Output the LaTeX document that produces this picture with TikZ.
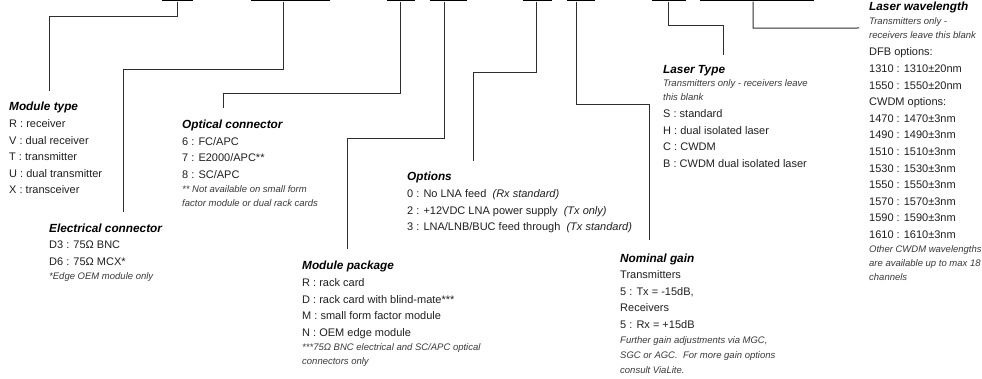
\documentclass[tikz,border=0pt]{standalone}
\usepackage{fontspec}
\setmainfont{Liberation Sans}
\usetikzlibrary{positioning}
\newcommand{\ttl}[1]{\rule{0pt}{9pt}{\fontsize{11.8}{14}\selectfont\bfseries\itshape\color{black}#1}}
\newcommand{\nte}[1]{{\fontsize{9.5}{12}\selectfont\itshape\color{black!78}#1}}

\begin{document}
\begin{tikzpicture}[
  x=1pt, y=-1pt,
  font=\fontsize{11}{16.6}\selectfont,
  bar/.style={fill=black, inner sep=0pt, minimum height=3pt},
  blk/.style={anchor=north west, inner sep=0pt, align=left, text=black!88},
  conn/.style={draw=black!82, line width=1pt}
]
  \useasboundingbox (0,0) rectangle (982,379);

  % code boxes along the top edge
  \node[bar, minimum width=31pt] (bar1) at (177.5,0) {};
  \node[bar, minimum width=79.5pt] (bar2) at (290.5,0) {};
  \node[bar, minimum width=28.5pt] (bar3) at (401,0) {};
  \node[bar, minimum width=36.5pt] (bar4) at (448.5,0) {};
  \node[bar, minimum width=29pt] (bar5) at (537.5,0) {};
  \node[bar, minimum width=28pt] (bar6) at (581,0) {};
  \node[bar, minimum width=34pt] (bar7) at (669,0) {};
  \node[bar, minimum width=114pt] (bar8) at (757,0) {};

  % field descriptions
  \node[blk] (mtype) at (9,101.7) {\ttl{Module type}\\
    R : receiver\\ V : dual receiver\\ T : transmitter\\
    U : dual transmitter\\ X : transceiver};

  \node[blk] (elec) at (49,223) {\ttl{Electrical connector}\\
    D3 : 75Ω BNC\\ D6 : 75Ω MCX*\\[-2.8pt]
    \nte{*Edge OEM module only}};

  \node[blk] (optic) at (182,119.5) {\ttl{Optical connector}\\
    6 : FC/APC\\ 7 : E2000/APC**\\ 8 : SC/APC\\[-2.4pt]
    \nte{** Not available on small form}\\[-2.6pt]
    \nte{factor module or dual rack cards}};

  \node[blk] (pkg) at (302,260.7) {\ttl{Module package}\\
    R : rack card\\ D : rack card with blind-mate***\\
    M : small form factor\ module\\ N : OEM edge module\\[-2pt]
    \nte{***75Ω BNC electrical and SC/APC\ optical}\\[-2.6pt]
    \nte{connectors only}};

  \node[blk] (opts) at (407,171.7) {\ttl{Options}\\
    0 : No LNA feed\ \ \textit{(Rx standard)}\\
    2 : +12VDC LNA power supply\ \ \textit{(Tx only)}\\
    3 : LNA/LNB/BUC feed through\ \ \textit{(Tx standard)}};

  \node[blk] (gain) at (620,253.3) {\ttl{Nominal gain}\\[-0.6pt]
    Transmitters\\ 5 : Tx = -15dB,\\ Receivers\\ 5 : Rx = +15dB\\[-1.6pt]
    \nte{Further gain adjustments via MGC,}\\[-1.6pt]
    \nte{SGC or AGC.\ \ For more gain options}\\[-1.1pt]
    \nte{consult ViaLite.}};

  \node[blk] (ltype) at (663,64.3) {\ttl{Laser Type}\\[-3.6pt]
    \nte{Transmitters only - receivers leave}\\[-2.6pt]
    \nte{this blank}\\[0.4pt]
    S : standard\\ H : dual isolated\ laser\\ C : CWDM\\
    B : CWDM dual isolated\ laser};

  \node[blk] (lwave) at (869,1) {\ttl{Laser wavelength}\\[-1.9pt]
    \nte{Transmitters only -}\\[-3.3pt]
    \nte{receivers leave this blank}\\[1.1pt]
    DFB options:\\ 1310 : 1310±20nm\\ 1550 : 1550±20nm\\
    CWDM options:\\ 1470 : 1470±3nm\\ 1490 : 1490±3nm\\
    1510 : 1510±3nm\\ 1530 : 1530±3nm\\ 1550 : 1550±3nm\\
    1570 : 1570±3nm\\ 1590 : 1590±3nm\\ 1610 : 1610±3nm\\[-2.6pt]
    \nte{Other CWDM wavelengths}\\[-2.6pt]
    \nte{are available up to max 18}\\[-2.6pt]
    \nte{channels}};

  % leader lines
  \draw[conn] (bar1.south) -- ++(0,14.5) -| ([xshift=40pt,yshift=10.7pt]mtype.north west);
  \draw[conn] ([xshift=-7.5pt]bar2.south) -- ++(0,67.5) -| ([xshift=74pt,yshift=11pt]elec.north west);
  \draw[conn] ([xshift=-1pt]bar3.south) -- ++(0,92) -| ([xshift=41pt,yshift=11.5pt]optic.north west);
  \draw[conn] ([xshift=-4.5pt]bar4.south) -- ++(0,136.5) -| ([xshift=45pt,yshift=11.7pt]pkg.north west);
  \draw[conn] ([xshift=-1.5pt]bar5.south) -- ++(0,70.5) -| ([xshift=66pt,yshift=10.7pt]opts.north west);
  \draw[conn] ([xshift=-5pt]bar6.south) -- ++(0,103) -| ([xshift=29pt,yshift=13.3pt]gain.north west);
  \draw[conn] ([xshift=-1pt]bar7.south) -- ++(0,23.5) -| ([xshift=60pt,yshift=9.3pt]ltype.north west);
  \draw[conn] ([xshift=-4pt]bar8.south) -- ++(0,26.5) -- ([xshift=-10pt,yshift=-27pt]lwave.north west);
\end{tikzpicture}
\end{document}
